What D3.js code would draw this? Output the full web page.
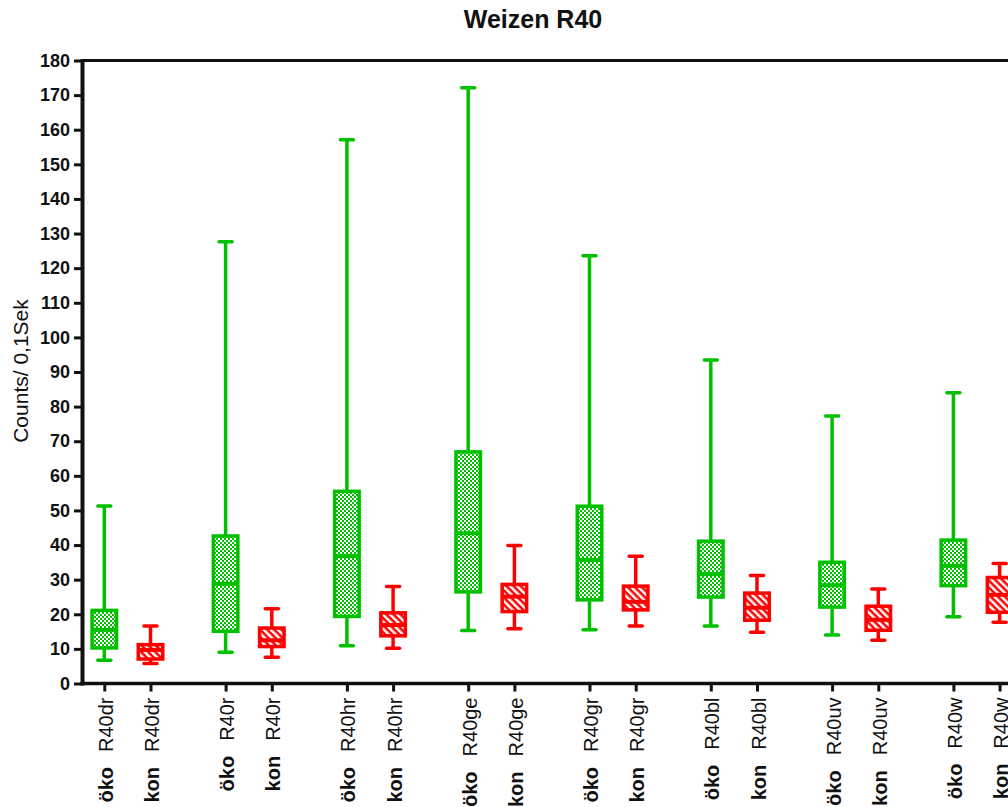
<!DOCTYPE html>
<html>
<head>
<meta charset="utf-8">
<script src="https://cdn.jsdelivr.net/npm/d3@7"></script>
<style>
  html, body { margin: 0; padding: 0; background: #fff; }
  svg { display: block; font-family: "Liberation Sans", Arial, sans-serif; }
</style>
</head>
<body>
<svg id="chart" width="1008" height="807"></svg>
<script>
// ---- data ----
const groups = ["R40dr", "R40r", "R40hr", "R40ge", "R40gr", "R40bl", "R40uv", "R40w"];
const types = ["öko", "kon"];

const okoMin = [6.7, 9.0, 10.9, 15.3, 15.5, 16.6, 14.0, 19.3];
const okoQ1  = [10.2, 15.0, 19.3, 26.4, 24.1, 24.9, 22.0, 28.2];
const okoMed = [15.5, 28.8, 36.8, 43.4, 35.7, 31.6, 28.4, 34.0];
const okoQ3  = [21.2, 42.7, 55.6, 67.0, 51.3, 41.2, 35.1, 41.5];
const okoMax = [51.3, 127.6, 157.1, 172.1, 123.6, 93.5, 77.3, 84.0];

const konMin = [5.8, 7.6, 10.2, 15.8, 16.6, 14.8, 12.5, 17.7];
const konQ1  = [7.0, 10.6, 13.7, 20.7, 21.2, 18.2, 15.3, 20.5];
const konMed = [9.7, 12.5, 16.9, 25.1, 23.6, 21.9, 18.4, 25.6];
const konQ3  = [11.3, 16.1, 20.5, 28.7, 28.2, 26.2, 22.4, 30.7];
const konMax = [16.6, 21.6, 28.0, 39.9, 36.8, 31.2, 27.3, 34.7];

const yTicks = d3.range(0, 181, 10);
const title = "Weizen R40";
const yLabel = "Counts/ 0,1Sek";

// ---- build rows ----
const rows = [];
groups.forEach((g, i) => {
  rows.push({g, t: "öko", min: okoMin[i], q1: okoQ1[i], med: okoMed[i], q3: okoQ3[i], max: okoMax[i]});
  rows.push({g, t: "kon", min: konMin[i], q1: konQ1[i], med: konMed[i], q3: konQ3[i], max: konMax[i]});
});

const colors = {"öko": "#00c000", "kon": "#ff0000"};
const patterns = {"öko": "url(#checker)", "kon": "url(#hatch)"};

const svg = d3.select("#chart");

// patterns
const defs = svg.append("defs");
const chk = defs.append("pattern").attr("id", "checker")
  .attr("patternUnits", "userSpaceOnUse").attr("width", 4).attr("height", 4);
chk.append("rect").attr("width", 4).attr("height", 4).attr("fill", colors["öko"]);
chk.append("rect").attr("x", 0).attr("y", 0).attr("width", 2).attr("height", 2).attr("fill", "#fff");
chk.append("rect").attr("x", 2).attr("y", 2).attr("width", 2).attr("height", 2).attr("fill", "#fff");

const hat = defs.append("pattern").attr("id", "hatch")
  .attr("patternUnits", "userSpaceOnUse").attr("width", 5).attr("height", 10)
  .attr("patternTransform", "rotate(-45)");
hat.append("rect").attr("width", 5).attr("height", 10).attr("fill", colors["kon"]);
hat.append("rect").attr("x", 0).attr("width", 2.5).attr("height", 10).attr("fill", "#fff");

// ---- scales ----
const y = d3.scaleLinear().domain([0, 180]).range([683.5, 60.5]);
const x0 = d3.scaleBand().domain(groups).range([81.2, 81.2 + 8 * 121.3]);
const x1 = d3.scaleBand().domain(types).range([0, 92.4]);
const cx = (g, t) => x0(g) + x1(t) + x1.bandwidth() / 2;

const keys = rows.map(r => r.t + "|" + r.g);
const xs = d3.scaleOrdinal().domain(keys).range(rows.map(r => cx(r.g, r.t)));

// ---- title ----
svg.append("text").attr("x", 533).attr("y", 28).attr("text-anchor", "middle")
  .attr("font-size", 25).attr("font-weight", "bold").attr("fill", "#111").text(title);

// y label
svg.append("text").attr("transform", "translate(28,371) rotate(-90)")
  .attr("text-anchor", "middle").attr("font-size", 21).attr("fill", "#111").text(yLabel);

// ---- axes ----
const yAxis = d3.axisLeft(y).tickValues(yTicks).tickSize(8).tickPadding(4).tickSizeOuter(0);
const gy = svg.append("g").attr("transform", "translate(82,0)").call(yAxis);
gy.select(".domain").remove();
gy.selectAll(".tick line").attr("stroke", "#111").attr("stroke-width", 3);
gy.selectAll(".tick text").attr("font-size", 18).attr("font-weight", "bold").attr("fill", "#111")
  .attr("font-family", "Liberation Sans, Arial, sans-serif");

const xAxis = d3.axisBottom(xs).tickSize(8).tickSizeOuter(0).tickFormat("");
const gx = svg.append("g").attr("transform", `translate(0,${y(0)})`).call(xAxis);
gx.select(".domain").remove();
gx.selectAll(".tick line").attr("stroke", "#111").attr("stroke-width", 3);
gx.selectAll(".tick text").remove();
gx.selectAll(".tick").each(function(k) {
  const [t, g] = k.split("|");
  const txt = d3.select(this).append("text")
    .attr("transform", "translate(8,14) rotate(-90)")
    .attr("text-anchor", "end").attr("fill", "#111").attr("font-size", 20)
    .attr("font-family", "Liberation Sans, Arial, sans-serif");
  txt.append("tspan").attr("font-weight", "bold").text(t);
  txt.append("tspan").attr("dx", 15).text(g);
});

// frame lines
svg.append("line").attr("x1", 82.5).attr("x2", 82.5).attr("y1", y(0) + 2).attr("y2", y(180) - 1.5)
  .attr("stroke", "#111").attr("stroke-width", 4);
svg.append("line").attr("x1", 80.5).attr("x2", 1010).attr("y1", y(0)).attr("y2", y(0))
  .attr("stroke", "#111").attr("stroke-width", 3.5);
svg.append("line").attr("x1", 82.5).attr("x2", 1010).attr("y1", y(180)).attr("y2", y(180))
  .attr("stroke", "#111").attr("stroke-width", 3);

// ---- boxes ----
const halfW = 14, inset = 3.5, capHalf = 6.5;
const gb = svg.append("g");
rows.forEach(r => {
  const c = cx(r.g, r.t);
  const col = colors[r.t];
  const g = gb.append("g");
  // whiskers
  g.append("line").attr("x1", c).attr("x2", c).attr("y1", y(r.q3)).attr("y2", y(r.max))
    .attr("stroke", col).attr("stroke-width", 3.5);
  g.append("line").attr("x1", c).attr("x2", c).attr("y1", y(r.q1)).attr("y2", y(r.min))
    .attr("stroke", col).attr("stroke-width", 3.5);
  [r.max, r.min].forEach(v => {
    g.append("line").attr("x1", c - capHalf).attr("x2", c + capHalf).attr("y1", y(v)).attr("y2", y(v))
      .attr("stroke", col).attr("stroke-width", 3.5).attr("stroke-linecap", "round");
  });
  // box
  const top = y(r.q3), bot = y(r.q1), med = y(r.med);
  g.append("rect").attr("x", c - halfW).attr("width", 2 * halfW)
    .attr("y", top - 1.5).attr("height", bot - top + 3).attr("fill", col);
  const segs = [[top + 2, med - 2], [med + 2, bot - 2]];
  segs.forEach(([a, b]) => {
    if (b - a > 0.5) {
      g.append("rect").attr("x", c - halfW + inset).attr("width", 2 * (halfW - inset))
        .attr("y", a).attr("height", b - a).attr("fill", patterns[r.t]);
    }
  });
});
</script>
</body>
</html>
